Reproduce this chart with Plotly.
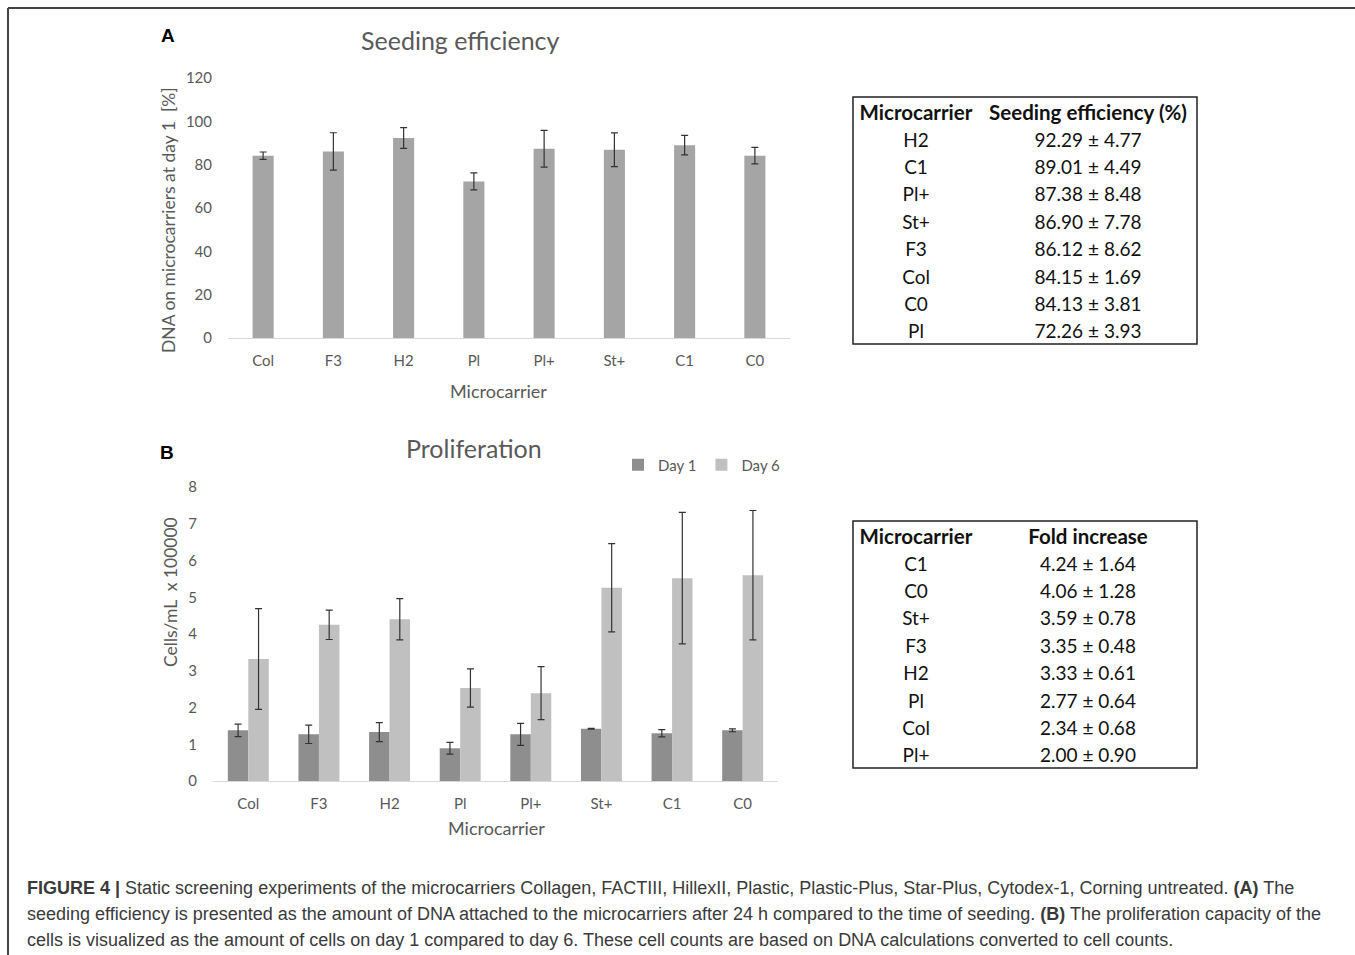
import plotly.graph_objects as go

# ---- data ----
categories = ["Col", "F3", "H2", "Pl", "Pl+", "St+", "C1", "C0"]

# Panel A: seeding efficiency (% DNA on microcarriers at day 1)
seeding_mean = [84.15, 86.12, 92.29, 72.26, 87.38, 86.90, 89.01, 84.13]
seeding_sd = [1.69, 8.62, 4.77, 3.93, 8.48, 7.78, 4.49, 3.81]

# Panel B: cell counts (cells/mL x 100000)
day1 = [1.38, 1.27, 1.33, 0.89, 1.27, 1.42, 1.30, 1.38]
day1_err = [0.17, 0.25, 0.26, 0.16, 0.30, 0.01, 0.10, 0.04]
day6 = [3.32, 4.25, 4.40, 2.53, 2.39, 5.26, 5.52, 5.60]
day6_err = [1.37, 0.40, 0.56, 0.52, 0.72, 1.20, 1.79, 1.76]

# Fold increase day 6 / day 1
fold_mean = [2.34, 3.35, 3.33, 2.77, 2.00, 3.59, 4.24, 4.06]
fold_sd = [0.68, 0.48, 0.61, 0.64, 0.90, 0.78, 1.64, 1.28]

yticks_a = [0, 20, 40, 60, 80, 100, 120]
yticks_b = [0, 1, 2, 3, 4, 5, 6, 7, 8]

caption_lines = [
    "<b>FIGURE 4 |</b> Static screening experiments of the microcarriers Collagen, FACTIII, HillexII, "
    "Plastic, Plastic-Plus, Star-Plus, Cytodex-1, Corning untreated. <b>(A)</b> The",
    "seeding efficiency is presented as the amount of DNA attached to the microcarriers after 24 h "
    "compared to the time of seeding. <b>(B)</b> The proliferation capacity of the",
    "cells is visualized as the amount of cells on day 1 compared to day 6. These cell counts are "
    "based on DNA calculations converted to cell counts.",
]

# ---- page geometry helpers (pixels -> paper) ----
W, H = 1355, 955


def px(x):
    return x / W


def py(y):
    return 1 - y / H


FONT = "Lato"
TICK_COLOR = "#595959"
ERR_COLOR = "#333333"
NBSP = "\u00a0"

fig = go.Figure()

# Panel A bars
fig.add_trace(go.Bar(
    x=categories, y=seeding_mean, width=0.3,
    marker=dict(color="#a5a5a5", line=dict(width=0)),
    error_y=dict(type="data", array=seeding_sd, visible=True,
                 color=ERR_COLOR, thickness=1.2, width=3.5),
    xaxis="x", yaxis="y", showlegend=False, name="Seeding efficiency",
))

# Panel B bars
fig.add_trace(go.Bar(
    x=categories, y=day1, width=0.29, offset=-0.29,
    marker=dict(color="#8e8e8e", line=dict(width=0)),
    error_y=dict(type="data", array=day1_err, visible=True,
                 color=ERR_COLOR, thickness=1.2, width=3.5),
    xaxis="x2", yaxis="y2", name="Day 1",
))
fig.add_trace(go.Bar(
    x=categories, y=day6, width=0.29, offset=0.0,
    marker=dict(color="#c0c0c0", line=dict(width=0)),
    error_y=dict(type="data", array=day6_err, visible=True,
                 color=ERR_COLOR, thickness=1.2, width=3.5),
    xaxis="x2", yaxis="y2", name="Day 6",
))


# ---- summary tables ----
def table_rows(means, sds):
    order = sorted(range(len(categories)), key=lambda i: -means[i])
    names = [categories[i] for i in order]
    vals = [f"{means[i]:.2f} ± {sds[i]:.2f}" for i in order]
    return names, vals


def add_table(header2, means, sds, top):
    names, vals = table_rows(means, sds)
    fig.add_trace(go.Table(
        domain=dict(x=[px(853), px(1197)], y=[py(top + 248), py(top)]),
        columnwidth=[126, 218],
        header=dict(values=["Microcarrier", header2.replace(" ", NBSP)],
                    align="center", height=27.4,
                    fill_color="white", line_color="rgba(0,0,0,0)",
                    font=dict(family=FONT, size=20.5, color="#111111", weight=700)),
        cells=dict(values=[names, vals], align="center", height=27.4,
                   fill_color="white", line_color="rgba(0,0,0,0)",
                   font=dict(family=FONT, size=19, color="#111111")),
    ))


add_table("Seeding efficiency (%)", seeding_mean, seeding_sd, 97)
add_table("Fold increase", fold_mean, fold_sd, 521)

axis_common = dict(showgrid=False, zeroline=False, automargin=False,
                   tickfont=dict(family=FONT, size=15, color=TICK_COLOR),
                   ticks="")

fig.update_layout(
    width=W, height=H, autosize=False,
    margin=dict(l=0, r=0, t=0, b=0, pad=0),
    paper_bgcolor="white", plot_bgcolor="white",
    barmode="overlay",
    font=dict(family=FONT, color=TICK_COLOR),
    xaxis=dict(domain=[px(228), px(790)], anchor="y", showline=True,
               linecolor="#d9d9d9", linewidth=1, ticklabelstandoff=9,
               **axis_common),
    yaxis=dict(domain=[py(338), py(78)], anchor="x", range=[0, 120],
               tickvals=yticks_a, showline=False, ticklabelstandoff=15,
               **axis_common),
    xaxis2=dict(domain=[px(213), px(778)], anchor="y2", showline=True,
                linecolor="#d9d9d9", linewidth=1, ticklabelstandoff=9,
                **axis_common),
    yaxis2=dict(domain=[py(781), py(487)], anchor="x2", range=[0, 8],
                tickvals=yticks_b, showline=False, ticklabelstandoff=15,
                **axis_common),
    legend=dict(orientation="h", x=px(702), xanchor="center",
                y=py(465), yanchor="middle",
                font=dict(family=FONT, size=15, color=TICK_COLOR),
                itemwidth=30, bgcolor="rgba(0,0,0,0)"),
)


def label(x, y, text, size, color=TICK_COLOR, family=FONT, angle=0):
    fig.add_annotation(x=px(x), y=py(y), xref="paper", yref="paper",
                       xanchor="center", yanchor="middle", textangle=angle,
                       text=text, showarrow=False,
                       font=dict(family=family, size=size, color=color))


# chart titles, axis titles and panel letters
label(460, 40, "Seeding efficiency", 25)
label(474, 448, "Proliferation", 25)
label(498, 391, "Microcarrier", 18)
label(496, 828, "Microcarrier", 18)
label(168, 220, "DNA on microcarriers at day 1  [%]", 17.5, angle=-90)
label(170, 592, "Cells/mL  x 100000", 17.5, angle=-90)
label(168, 36, "<b>A</b>", 19, color="#000000", family="Liberation Sans")
label(167, 452, "<b>B</b>", 19, color="#000000", family="Liberation Sans")

# caption
for i, line in enumerate(caption_lines):
    fig.add_annotation(x=px(25), y=py(888 + 26 * i), xref="paper", yref="paper",
                       xanchor="left", yanchor="middle", align="left",
                       text=line, showarrow=False,
                       font=dict(family="Liberation Sans", size=18, color="#3a3a3a"))

# table outlines
for top in (97, 521):
    fig.add_shape(type="rect", xref="paper", yref="paper",
                  x0=px(853), x1=px(1197), y0=py(top), y1=py(top + 247),
                  line=dict(color="#222222", width=1.5))

# frame on top and left edges
fig.add_shape(type="line", xref="paper", yref="paper",
              x0=px(8), x1=1, y0=py(8), y1=py(8),
              line=dict(color="#444444", width=2))
fig.add_shape(type="line", xref="paper", yref="paper",
              x0=px(8), x1=px(8), y0=py(8), y1=0,
              line=dict(color="#444444", width=2))

fig.write_html("out.html")
